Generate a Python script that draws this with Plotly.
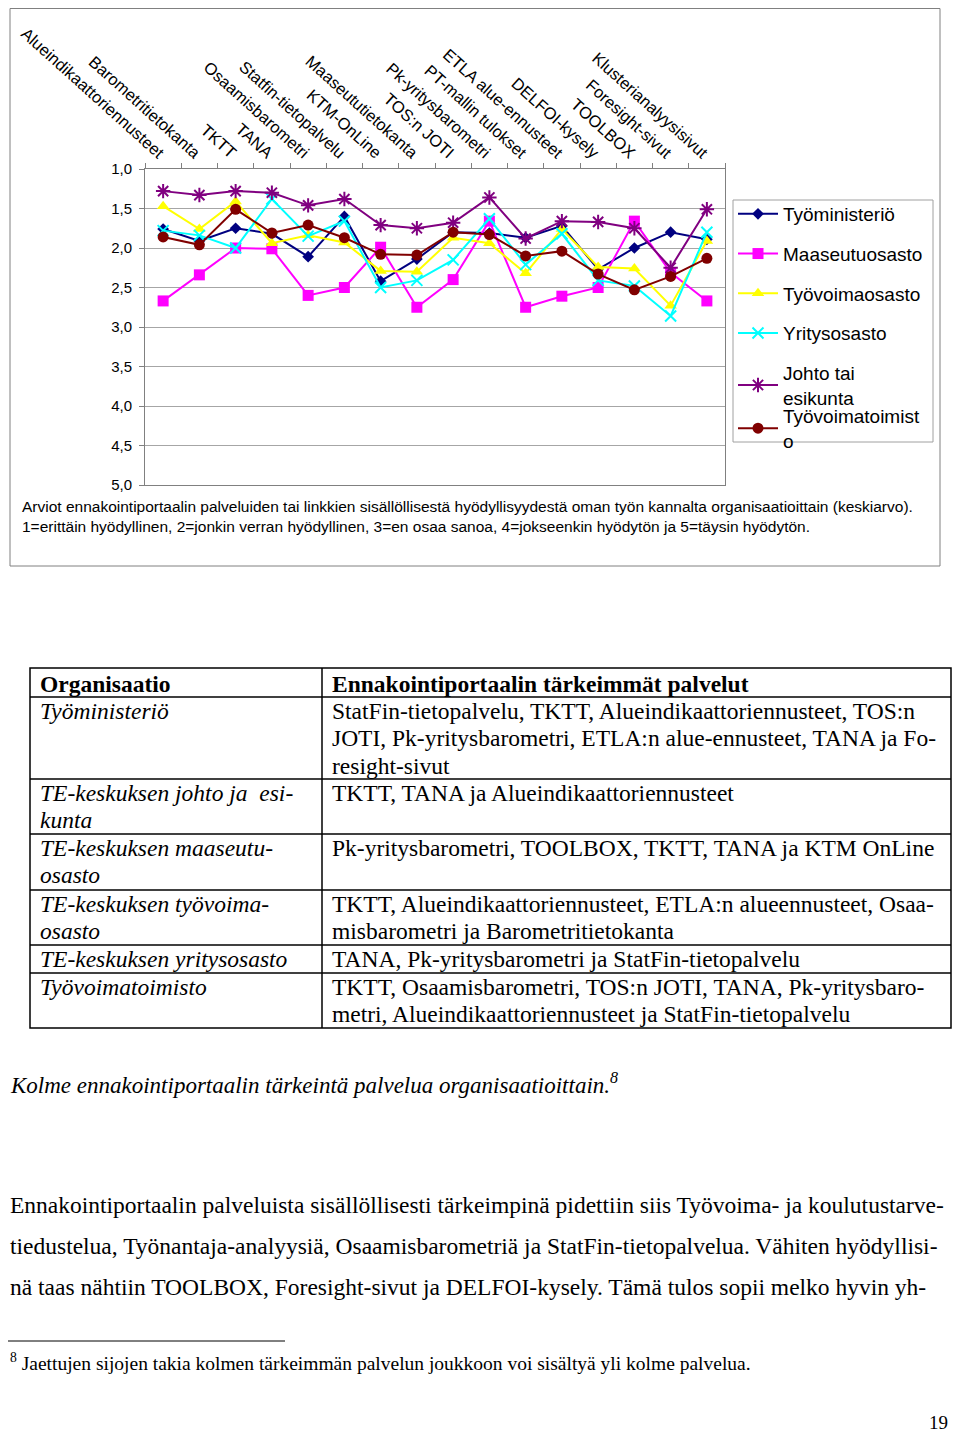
import plotly.graph_objects as go

categories = ["Alueindikaattoriennusteet", "Barometritietokanta", "TKTT", "TANA",
              "Osaamisbarometri", "Statfin-tietopalvelu", "KTM-OnLine", "Maaseututietokanta",
              "TOS:n JOTI", "Pk-yritysbarometri", "PT-mallin tulokset", "ETLA alue-ennusteet",
              "DELFOI-kysely", "TOOLBOX", "Foresight-sivut", "Klusterianalyysisivut"]

tyoministerio = [1.76, 1.91, 1.75, 1.82, 2.11, 1.60, 2.42, 2.14, 1.80, 1.81, 1.87, 1.72, 2.27, 2.00, 1.80, 1.89]
maaseutuosasto = [2.67, 2.34, 2.00, 2.01, 2.60, 2.50, 1.99, 2.75, 2.40, 1.66, 2.75, 2.61, 2.50, 1.66, 2.31, 2.67]
tyovoimaosasto = [1.47, 1.76, 1.41, 1.94, 1.84, 1.93, 2.29, 2.30, 1.87, 1.94, 2.32, 1.76, 2.24, 2.26, 2.73, 1.91]
yritysosasto = [1.78, 1.84, 2.00, 1.38, 1.85, 1.66, 2.50, 2.41, 2.15, 1.63, 2.21, 1.82, 2.41, 2.48, 2.86, 1.80]
johto = [1.28, 1.33, 1.28, 1.30, 1.46, 1.38, 1.71, 1.75, 1.68, 1.36, 1.88, 1.66, 1.67, 1.75, 2.25, 1.51]
tyovoimatoimisto = [1.86, 1.96, 1.51, 1.81, 1.71, 1.87, 2.08, 2.09, 1.80, 1.83, 2.10, 2.04, 2.33, 2.53, 2.36, 2.13]

y_ticks = [1.0, 1.5, 2.0, 2.5, 3.0, 3.5, 4.0, 4.5, 5.0]

series = [
    ("Työministeriö", tyoministerio, "#000080", "diamond", 9, None, "legend"),
    ("Maaseutuosasto", maaseutuosasto, "#FF00FF", "square", 11, None, "legend"),
    ("Työvoimaosasto", tyovoimaosasto, "#FFFF00", "triangle-up", 11, None, "legend"),
    ("Yritysosasto", yritysosasto, "#00FFFF", "x-thin-open", 11, 2, "legend"),
    ("Johto tai<br>esikunta", johto, "#800080", "asterisk-open", 12, 2, "legend"),
    ("Työvoimatoimist<br>o", tyovoimatoimisto, "#800000", "circle", 11, None, "legend2"),
]

# page offset: the browser body adds an 8px margin on every side
OFF = 8
W, H = 960 - 2 * OFF, 1440 - 2 * OFF
def px(x):
    return (x - OFF) / W
def py(y):
    return 1 - (y - OFF) / H

fig = go.Figure()
for name, vals, col, sym, size, lw, lg in series:
    marker = dict(color=col, symbol=sym, size=size)
    if lw:
        marker["line"] = dict(color=col, width=lw)
    fig.add_trace(go.Scatter(x=categories, y=vals, mode="lines+markers", name=name,
                             legendgroup=name, legend=lg,
                             line=dict(color=col, width=2), marker=marker))

SANS = "Liberation Sans, Arial, sans-serif"
SERIF = "Liberation Serif, Times New Roman, serif"
LFS = 19

fig.update_layout(
    width=W, height=H, margin=dict(l=0, r=0, t=0, b=0, autoexpand=False),
    paper_bgcolor="white", plot_bgcolor="white",
    separators=", ",
    font=dict(family=SANS, color="black"),
    showlegend=True,
    legend=dict(x=px(733), y=py(195), xanchor="left", yanchor="top",
                borderwidth=0, bgcolor="rgba(0,0,0,0)", itemwidth=40,
                font=dict(size=LFS, family=SANS), tracegroupgap=12),
    legend2=dict(x=px(733), y=py(397), xanchor="left", yanchor="top",
                 borderwidth=0, bgcolor="rgba(0,0,0,0)", itemwidth=40,
                 font=dict(size=LFS, family=SANS)),
    xaxis=dict(domain=[px(145), px(725)], type="category", side="top",
               range=[-0.5, 15.5], tickangle=42, tickson="boundaries",
               ticks="outside", ticklen=5, tickcolor="#808080", automargin=False,
               showline=True, linecolor="#808080", mirror=True, showgrid=False,
               tickfont=dict(size=16.5, family=SANS)),
    yaxis=dict(domain=[py(485), py(169)], range=[5, 1], tickvals=y_ticks,
               tickformat=".1f", ticks="outside", ticklen=5, tickcolor="#808080",
               ticklabelstandoff=4,
               showline=True, linecolor="#808080", mirror=True, automargin=False,
               showgrid=True, gridcolor="#a6a6a6", zeroline=False,
               tickfont=dict(size=15, family=SANS)),
)

shapes = []
# outer chart box
shapes.append(dict(type="rect", xref="paper", yref="paper", x0=px(10), x1=px(940),
                   y0=py(566), y1=py(8.5), line=dict(color="#808080", width=1)))
# legend box
shapes.append(dict(type="rect", xref="paper", yref="paper", x0=px(733), x1=px(933),
                   y0=py(442), y1=py(200), line=dict(color="#a0a0a0", width=1)))

annotations = []
def text(x, y, s, size, family=SERIF, anchor="left", yanchor="middle"):
    annotations.append(dict(x=px(x), y=py(y), xref="paper", yref="paper", text=s,
                            showarrow=False, xanchor=anchor, yanchor=yanchor,
                            font=dict(size=size, family=family, color="black")))

text(20, 506, "Arviot ennakointiportaalin palveluiden tai linkkien sisällöllisestä hyödyllisyydestä oman työn kannalta organisaatioittain (keskiarvo).", 15.5, SANS)
text(20, 526, "1=erittäin hyödyllinen, 2=jonkin verran hyödyllinen, 3=en osaa sanoa, 4=jokseenkin hyödytön ja 5=täysin hyödytön.", 15.5, SANS)

tx0, tx1, tcol = 30, 951, 322
row_lines = [668, 697, 779, 834, 890, 945, 973, 1028]
shapes.append(dict(type="rect", xref="paper", yref="paper", x0=px(tx0), x1=px(tx1),
                   y0=py(row_lines[-1]), y1=py(row_lines[0]), line=dict(color="black", width=1.5)))
shapes.append(dict(type="line", xref="paper", yref="paper", x0=px(tcol), x1=px(tcol),
                   y0=py(row_lines[-1]), y1=py(row_lines[0]), line=dict(color="black", width=1.5)))
for yl in row_lines[1:-1]:
    shapes.append(dict(type="line", xref="paper", yref="paper", x0=px(tx0), x1=px(tx1),
                       y0=py(yl), y1=py(yl), line=dict(color="black", width=1.5)))

FS = 23.5
LH = 27.3
text(38, 684, "<b>Organisaatio</b>", FS)
text(330, 684, "<b>Ennakointiportaalin tärkeimmät palvelut</b>", FS)

left_cells = [
    ["Työministeriö"],
    ["TE-keskuksen johto ja  esi-", "kunta"],
    ["TE-keskuksen maaseutu-", "osasto"],
    ["TE-keskuksen työvoima-", "osasto"],
    ["TE-keskuksen yritysosasto"],
    ["Työvoimatoimisto"],
]
right_cells = [
    ["StatFin-tietopalvelu, TKTT, Alueindikaattoriennusteet, TOS:n",
     "JOTI, Pk-yritysbarometri, ETLA:n alue-ennusteet, TANA ja Fo-",
     "resight-sivut"],
    ["TKTT, TANA ja Alueindikaattoriennusteet"],
    ["Pk-yritysbarometri, TOOLBOX, TKTT, TANA ja KTM OnLine"],
    ["TKTT, Alueindikaattoriennusteet, ETLA:n alueennusteet, Osaa-",
     "misbarometri ja Barometritietokanta"],
    ["TANA, Pk-yritysbarometri ja StatFin-tietopalvelu"],
    ["TKTT, Osaamisbarometri, TOS:n JOTI, TANA, Pk-yritysbaro-",
     "metri, Alueindikaattoriennusteet ja StatFin-tietopalvelu"],
]
for i, (lc, rc) in enumerate(zip(left_cells, right_cells)):
    top = row_lines[i + 1]
    for j, line in enumerate(lc):
        text(38, top + 14 + j * LH, "<i>" + line + "</i>", FS)
    for j, line in enumerate(rc):
        text(330, top + 14 + j * LH, line, FS)

text(8, 1083, "<i>Kolme ennakointiportaalin tärkeintä palvelua organisaatioittain.</i><sup><i>8</i></sup>", 23)

para = [
    "Ennakointiportaalin palveluista sisällöllisesti tärkeimpinä pidettiin siis Työvoima- ja koulutustarve-",
    "tiedustelua, Työnantaja-analyysiä, Osaamisbarometriä ja StatFin-tietopalvelua. Vähiten hyödyllisi-",
    "nä taas nähtiin TOOLBOX, Foresight-sivut ja DELFOI-kysely. Tämä tulos sopii melko hyvin yh-",
]
for k, line in enumerate(para):
    text(8, 1205 + k * 41, line, 23.5)

shapes.append(dict(type="line", xref="paper", yref="paper", x0=px(8), x1=px(285),
                   y0=py(1341), y1=py(1341), line=dict(color="black", width=1)))
text(8, 1362, "<sup>8</sup> Jaettujen sijojen takia kolmen tärkeimmän palvelun joukkoon voi sisältyä yli kolme palvelua.", 19.5)
text(950, 1422, "19", 19, anchor="right")

fig.update_layout(shapes=shapes, annotations=annotations)
fig.write_html("out.html")
